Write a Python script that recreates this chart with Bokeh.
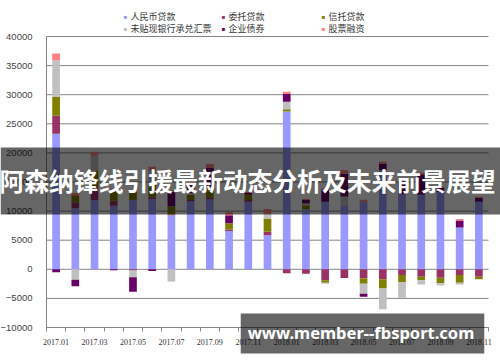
import numpy as np
from bokeh.plotting import figure
from bokeh.models import ColumnDataSource, Range1d, FixedTicker, Label, BoxAnnotation
from bokeh.embed import file_html
from bokeh.resources import INLINE

# ---- data (亿元) ----
months = ["2017.01", "2017.02", "2017.03", "2017.04", "2017.05", "2017.06",
          "2017.07", "2017.08", "2017.09", "2017.10", "2017.11", "2017.12",
          "2018.01", "2018.02", "2018.03", "2018.04", "2018.05", "2018.06",
          "2018.07", "2018.08", "2018.09", "2018.10", "2018.11"]
series_names = ["人民币贷款", "委托贷款", "信托贷款", "未贴现银行承兑汇票", "企业债券", "股票融资"]
rmb_loans = [23300, 10500, 11900, 10900, 11900, 12100, 9300, 11700, 12000, 6600, 11600, 5860,
             27100, 10300, 11600, 11000, 11600, 17000, 12900, 12800, 13300, 7200, 11600]
entrusted = [3100, 1000, 2200, 900, -200, 300, 100, 200, 300, 250, 300, 580,
             -700, -750, -1900, -1500, -1550, -1700, -1000, -1270, -1440, -1000, -1300]
trust = [3200, 1100, 2800, 1500, 1600, 2300, 1400, 900, 1300, 1050, 900, 2300,
         400, 700, -400, 0, -950, -1600, -1200, -630, -960, -1300, -400]
undiscounted = [6300, -1800, 2600, 0, -1150, 2300, -2100, 300, 500, 0, 0, 800,
                1300, 300, -200, 1500, -1700, -3560, -2700, -700, -370, -300, 0]
corp_bonds = [-500, -1100, 0, -150, -2500, -300, 2500, 1600, 3400, 1400, 300, 0,
              1300, 600, 2000, 3900, -500, 1150, 2200, 3500, 700, 1200, 700]
equity = [1200, 450, 700, 600, 150, 600, 300, 700, 600, 500, 200, 800,
          400, 200, 300, 600, 350, 350, 150, 300, 200, 250, 150]
y_ticks = [-10000, -5000, 0, 5000, 10000, 15000, 20000, 25000, 30000, 35000, 40000]
colors = ["#9999FF", "#993366", "#808000", "#C0C0C0", "#660066", "#FF8080"]

values = [rmb_loans, entrusted, trust, undiscounted, corp_bonds, equity]
n = len(months)
xs = list(range(n))

data = {"x": xs}
pos_keys, neg_keys = [], []
for i, v in enumerate(values):
    arr = np.array(v, dtype=float)
    data[f"pos{i}"] = np.clip(arr, 0, None)
    data[f"neg{i}"] = np.clip(arr, None, 0)
    pos_keys.append(f"pos{i}")
    neg_keys.append(f"neg{i}")
source = ColumnDataSource(data)

# ---- layout: the frame covers the whole canvas so overlays are not clipped ----
W, H = 500, 362
FL, FR, FT, FB = 46, 488, 36, 327          # plot-area edges in canvas pixels
x0, x1 = -0.5, n - 0.5
y0, y1 = y_ticks[0], y_ticks[-1]
ux = (x1 - x0) / (FR - FL)
uy = (y1 - y0) / (FB - FT)
x_range = Range1d(x0 - FL * ux, x1 + (W - FR) * ux)
y_range = Range1d(y0 - (H - FB) * uy, y1 + FT * uy)

def canvas_y(py):
    """canvas pixel row -> data y"""
    return y_range.end - py * uy

p = figure(width=W, height=H, output_backend="svg", toolbar_location=None,
           x_range=x_range, y_range=y_range,
           min_border=0, min_border_left=0, min_border_right=0,
           min_border_top=0, min_border_bottom=0)
p.outline_line_color = None
p.background_fill_color = "white"
p.border_fill_color = "white"
p.xgrid.visible = False
p.ygrid.visible = False

grid_col = "#858585"
p.segment(x0=[x0] * len(y_ticks), x1=[x1] * len(y_ticks), y0=y_ticks, y1=y_ticks,
          line_color=grid_col, line_width=1)

p.vbar_stack(pos_keys, x="x", width=0.4, color=colors, source=source, line_width=0)
p.vbar_stack(neg_keys, x="x", width=0.4, color=colors, source=source, line_width=0)

p.yaxis.fixed_location = x0
p.yaxis.bounds = (y0, y1)
p.yaxis.ticker = FixedTicker(ticks=y_ticks)
p.yaxis.axis_line_color = grid_col
p.yaxis.major_tick_line_color = None
p.yaxis.minor_tick_line_color = None
p.yaxis.major_label_standoff = 8
p.yaxis.major_label_text_font = "Liberation Sans"
p.yaxis.major_label_text_font_size = "9.5px"
p.yaxis.major_label_text_color = "#444444"

p.xaxis.fixed_location = y0
p.xaxis.bounds = (x0, x1)
p.xaxis.ticker = FixedTicker(ticks=xs[::2], minor_ticks=[x - 0.5 for x in range(n + 1)])
p.xaxis.major_label_overrides = {i: months[i] for i in xs[::2]}
p.xaxis.axis_line_color = grid_col
p.xaxis.major_tick_line_color = None
p.xaxis.minor_tick_line_color = grid_col
p.xaxis.minor_tick_out = 4
p.xaxis.minor_tick_in = 0
p.xaxis.major_label_standoff = 5
p.xaxis.major_label_text_font = "Liberation Serif"
p.xaxis.major_label_text_font_size = "8px"
p.xaxis.major_label_text_color = "#333333"

# legend: two rows, three columns above the plot area (canvas pixel positions)
leg_cols = [125, 223, 323]
leg_rows = [16, 28]
for k, name in enumerate(series_names):
    r, c = divmod(k, 3)
    cx, cy = leg_cols[c], leg_rows[r]
    p.add_layout(Label(x=cx, y=H - cy, x_units="screen", y_units="screen",
                       text="■", text_color=colors[k], text_font_size="6px",
                       text_align="center", text_baseline="middle"))
    p.add_layout(Label(x=cx + 5, y=H - cy, x_units="screen", y_units="screen",
                       text=name, text_color="#333333", text_font="Noto Sans CJK SC",
                       text_font_size="9px", text_align="left", text_baseline="middle"))

# overlay banner: translucent band across the whole width plus white title text
p.add_layout(BoxAnnotation(left=x_range.start, right=x_range.end,
                           top=canvas_y(147), bottom=canvas_y(214),
                           fill_color="black", fill_alpha=0.6, line_alpha=0))
p.add_layout(Label(x=247, y=H - 179, x_units="screen", y_units="screen",
                   text="阿森纳锋线引援最新动态分析及未来前景展望", text_color="white",
                   text_font="Noto Sans CJK SC", text_font_style="bold", text_font_size="24.8px",
                   text_align="center", text_baseline="middle"))
# watermark
p.add_layout(Label(x=362, y=H - 333, x_units="screen", y_units="screen",
                   text="www.member--fbsport.com", text_color="white",
                   text_font="Noto Sans", text_font_style="bold", text_font_size="16.5px",
                   text_align="center", text_baseline="middle",
                   background_fill_color="black", background_fill_alpha=0.6,
                   padding=(7, 10, 7, 10)))

open("out.html", "w").write(file_html(p, INLINE))
